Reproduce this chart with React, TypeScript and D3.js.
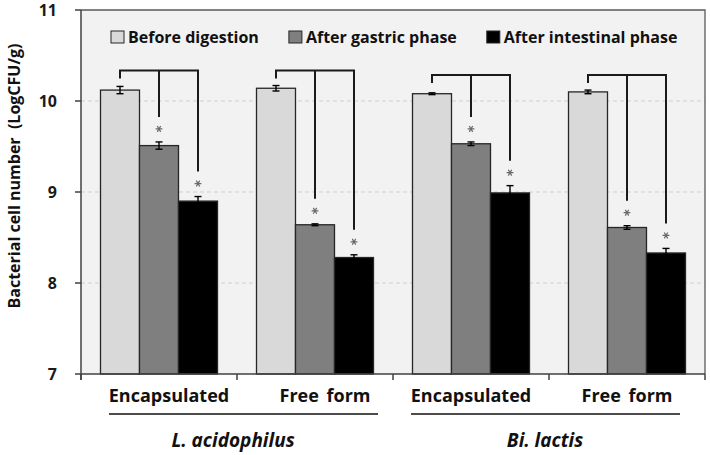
import React, { useEffect, useRef } from "react";
import * as d3 from "d3";

// survival of probiotic cells through simulated digestion
const groupIds = ["la-enc", "la-free", "bl-enc", "bl-free"];
const groupLabels = ["Encapsulated", "Free form", "Encapsulated", "Free form"];
const groupSpecies = [0, 0, 1, 1];
const speciesNames = ["L. acidophilus", "Bi. lactis"];
const phases = ["Before digestion", "After gastric phase", "After intestinal phase"];

const beforeVals = [10.12, 10.14, 10.08, 10.1];
const gastricVals = [9.51, 8.64, 9.53, 8.61];
const intestinalVals = [8.9, 8.28, 8.99, 8.33];

const beforeErr = [0.04, 0.03, 0.01, 0.02];
const gastricErr = [0.04, 0.01, 0.02, 0.02];
const intestinalErr = [0.05, 0.03, 0.08, 0.05];

// significance vs. before digestion (gastric, intestinal)
const gastricSig = [true, true, true, true];
const intestinalSig = [true, true, true, true];

const yTicks = [7, 8, 9, 10, 11];
const gridTicks = [8, 9, 10];

const W = 710;
const H = 455;
const FONT = "'Open Sans', 'Noto Sans', sans-serif";
const fills = ["#d9d9d9", "#7f7f7f", "#000000"];

const App = () => {
  const ref = useRef<SVGSVGElement>(null);

  useEffect(() => {
    const margin = { top: 10, right: 5, bottom: 81, left: 81 };
    const width = W - margin.left - margin.right;
    const height = H - margin.top - margin.bottom;

    const root = d3.select(ref.current);
    root.selectAll("*").remove();
    const svg = root
      .append("g")
      .attr("transform", `translate(${margin.left},${margin.top})`);

    const x0 = d3.scaleBand().domain(groupIds).range([0, width]).padding(0);
    const x1 = d3
      .scaleBand()
      .domain(phases)
      .range([0, x0.bandwidth()])
      .paddingInner(0)
      .paddingOuter(0.5);
    const y = d3.scaleLinear().domain([7, 11]).range([height, 0]);

    const vals = [beforeVals, gastricVals, intestinalVals];
    const errs = [beforeErr, gastricErr, intestinalErr];

    // plot background
    svg
      .append("rect")
      .attr("width", width)
      .attr("height", height)
      .attr("fill", "#f2f2f2");

    // dashed grid
    svg
      .selectAll(".grid")
      .data(gridTicks)
      .enter()
      .append("line")
      .attr("x1", 0)
      .attr("x2", width)
      .attr("y1", (d) => y(d))
      .attr("y2", (d) => y(d))
      .attr("stroke", "#cfcfcf")
      .attr("stroke-width", 1)
      .attr("stroke-dasharray", "4,3");

    // frame top/right
    svg
      .append("path")
      .attr("d", `M0,0H${width}V${height}`)
      .attr("fill", "none")
      .attr("stroke", "#595959")
      .attr("stroke-width", 1.3);

    // bars
    groupIds.forEach((g, gi) => {
      phases.forEach((p, pi) => {
        const v = vals[pi][gi];
        svg
          .append("rect")
          .attr("x", x0(g)! + x1(p)!)
          .attr("y", y(v))
          .attr("width", x1.bandwidth())
          .attr("height", height - y(v))
          .attr("fill", fills[pi])
          .attr("stroke", "#262626")
          .attr("stroke-width", 1.3);
      });
    });

    // error bars
    groupIds.forEach((g, gi) => {
      phases.forEach((p, pi) => {
        const v = vals[pi][gi];
        const e = errs[pi][gi];
        const cx = x0(g)! + x1(p)! + x1.bandwidth() / 2;
        const eb = svg.append("g").attr("stroke", "#000").attr("stroke-width", 1.4);
        eb.append("line").attr("x1", cx).attr("x2", cx).attr("y1", y(v - e)).attr("y2", y(v + e));
        [v - e, v + e].forEach((t) => {
          eb.append("line")
            .attr("x1", cx - 3.5)
            .attr("x2", cx + 3.5)
            .attr("y1", y(t))
            .attr("y2", y(t));
        });
      });
    });

    // brackets and asterisks
    const speciesTop = speciesNames.map((_, si) =>
      d3.max(
        groupIds
          .map((_, gi) => gi)
          .filter((gi) => groupSpecies[gi] === si)
          .map((gi) => beforeVals[gi] + beforeErr[gi])
      )!
    );
    const star = d3.symbol(d3.symbolAsterisk, 32);
    groupIds.forEach((g, gi) => {
      const cx = (p: string) => x0(g)! + x1(p)! + x1.bandwidth() / 2;
      const capY = (pi: number) => y(vals[pi][gi] + errs[pi][gi]);
      const topY = y(speciesTop[groupSpecies[gi]]);
      const by = topY - 15;
      const br = svg
        .append("g")
        .attr("fill", "none")
        .attr("stroke", "#1a1a1a")
        .attr("stroke-width", 2);
      br.append("path").attr(
        "d",
        `M${cx(phases[0])},${topY - 7}V${by}H${cx(phases[2])}V${capY(2) - 25}`
      );
      br.append("path").attr("d", `M${cx(phases[1])},${by}V${capY(1) - 25}`);

      const sig = [gastricSig[gi], intestinalSig[gi]];
      [1, 2].forEach((pi, k) => {
        if (!sig[k]) return;
        svg
          .append("path")
          .attr("d", star()!)
          .attr("transform", `translate(${cx(phases[pi])},${capY(pi) - 13}) rotate(90)`)
          .attr("fill", "none")
          .attr("stroke", "#6a6a6a")
          .attr("stroke-width", 1.2);
      });
    });

    // y axis
    svg
      .append("line")
      .attr("x1", 0)
      .attr("x2", 0)
      .attr("y1", 0)
      .attr("y2", height + 6)
      .attr("stroke", "#404040")
      .attr("stroke-width", 1.5);
    svg
      .selectAll(".ytick")
      .data(yTicks)
      .enter()
      .append("line")
      .attr("x1", -6)
      .attr("x2", 0)
      .attr("y1", (d) => y(d))
      .attr("y2", (d) => y(d))
      .attr("stroke", "#404040")
      .attr("stroke-width", 1.5);
    svg
      .selectAll(".ylab")
      .data(yTicks)
      .enter()
      .append("text")
      .attr("x", -24)
      .attr("y", (d) => y(d) + 6)
      .attr("text-anchor", "end")
      .attr("font-family", FONT)
      .attr("font-weight", 700)
      .attr("font-size", 16)
      .attr("fill", "#1a1a1a")
      .text((d) => d);

    // x axis
    svg
      .append("line")
      .attr("x1", 0)
      .attr("x2", width)
      .attr("y1", height)
      .attr("y2", height)
      .attr("stroke", "#404040")
      .attr("stroke-width", 1.5);
    const bounds = groupIds.map((g) => x0(g)!).concat([width]);
    svg
      .selectAll(".xtick")
      .data(bounds)
      .enter()
      .append("line")
      .attr("x1", (d) => d)
      .attr("x2", (d) => d)
      .attr("y1", height)
      .attr("y2", height + 6)
      .attr("stroke", "#404040")
      .attr("stroke-width", 1.5);

    // group labels (first species set slightly right)
    const labelShift = [10, 0];
    const labelCx = groupIds.map(
      (g, gi) => x0(g)! + x0.bandwidth() / 2 + labelShift[groupSpecies[gi]]
    );
    groupIds.forEach((g, gi) => {
      svg
        .append("text")
        .attr("x", labelCx[gi])
        .attr("y", height + 28)
        .attr("text-anchor", "middle")
        .attr("font-family", FONT)
        .attr("font-weight", 700)
        .attr("font-size", 18)
        .attr("fill", "#111")
        .attr("word-spacing", 3)
        .text(groupLabels[gi]);
    });

    // species underline and names
    speciesNames.forEach((s, si) => {
      const idx = groupIds.map((_, gi) => gi).filter((gi) => groupSpecies[gi] === si);
      const first = idx[0];
      const last = idx[idx.length - 1];
      svg
        .append("line")
        .attr("x1", labelCx[first] - 60)
        .attr("x2", labelCx[last] + 53)
        .attr("y1", height + 40)
        .attr("y2", height + 40)
        .attr("stroke", "#111")
        .attr("stroke-width", 1.6);
      const sx = (x0(groupIds[first])! + x0(groupIds[last])! + x0.bandwidth()) / 2 - 4;
      svg
        .append("text")
        .attr("x", sx)
        .attr("y", height + 73)
        .attr("text-anchor", "middle")
        .attr("font-family", FONT)
        .attr("font-weight", 700)
        .attr("font-style", "italic")
        .attr("font-size", 19)
        .attr("fill", "#111")
        .text(s);
    });

    // y title
    root
      .append("text")
      .attr("transform", `translate(20,${176}) rotate(-90)`)
      .attr("text-anchor", "middle")
      .attr("font-family", FONT)
      .attr("font-weight", 700)
      .attr("font-size", 16)
      .attr("fill", "#111")
      .attr("xml:space", "preserve")
      .text("Bacterial cell number  (LogCFU/g)");

    // legend
    let lx = 111 - margin.left;
    phases.forEach((p, pi) => {
      const item = svg.append("g").attr("transform", `translate(${lx},21)`);
      item
        .append("rect")
        .attr("width", 13)
        .attr("height", 12)
        .attr("fill", fills[pi])
        .attr("stroke", "#262626")
        .attr("stroke-width", 1);
      const t = item
        .append("text")
        .attr("x", 17)
        .attr("y", 11.5)
        .attr("font-family", FONT)
        .attr("font-weight", 700)
        .attr("font-size", 16)
        .attr("fill", "#111")
        .text(p);
      const tl = (t.node() as SVGTextElement).getComputedTextLength();
      lx += 17 + tl + 30;
    });
  }, []);

  return (
    <svg
      ref={ref}
      width={W}
      height={H}
      style={{ position: "absolute", left: 0, top: 0, background: "#fff" }}
    />
  );
};

export default App;
